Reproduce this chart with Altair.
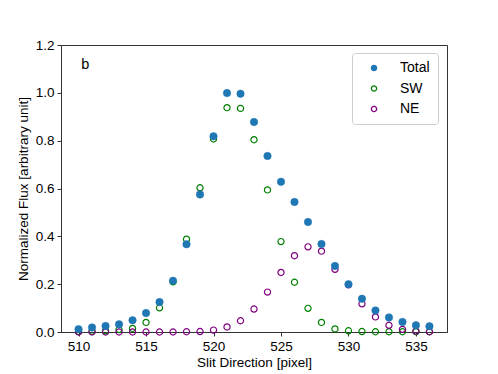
import altair as alt
import pandas as pd

pixels = list(range(510, 537))
total = [0.012, 0.019, 0.025, 0.032, 0.049, 0.079, 0.125, 0.214, 0.367, 0.575,
         0.818, 0.999, 0.996, 0.878, 0.736, 0.628, 0.544, 0.460, 0.368, 0.276,
         0.200, 0.139, 0.090, 0.061, 0.042, 0.028, 0.024]
sw = [0.002, 0.003, 0.005, 0.010, 0.015, 0.040, 0.101, 0.210, 0.388, 0.603,
      0.807, 0.938, 0.935, 0.804, 0.594, 0.378, 0.208, 0.099, 0.040, 0.013,
      0.005, 0.002, 0.001, 0.001, 0.001, 0.001, 0.001]
ne = [0.000, 0.000, 0.000, 0.000, 0.000, 0.000, 0.000, 0.000, 0.001, 0.002,
      0.008, 0.021, 0.047, 0.096, 0.167, 0.249, 0.319, 0.356, 0.338, 0.262,
      0.197, 0.118, 0.063, 0.028, 0.011, 0.004, 0.001]
series_names = ["Total", "SW", "NE"]
stroke_colors = ["#1f77b4", "#008000", "#800080"]
fill_colors = ["#1f77b4", "transparent", "transparent"]

series_vals = {"Total": total, "SW": sw, "NE": ne}
rows = []
for name in ["SW", "NE", "Total"]:
    for p, v in zip(pixels, series_vals[name]):
        rows.append({"pixel": p, "flux": v, "series": name})
df = pd.DataFrame(rows)

FONT = "Liberation Sans"

x_enc = alt.X("pixel:Q", scale=alt.Scale(domain=[508.7, 537.3], nice=False, zero=False),
              axis=alt.Axis(values=[510, 515, 520, 525, 530, 535], format="d",
                            title="Slit Direction [pixel]", grid=False))
y_enc = alt.Y("flux:Q", scale=alt.Scale(domain=[0, 1.2], nice=False),
              axis=alt.Axis(values=[0, 0.2, 0.4, 0.6, 0.8, 1.0, 1.2], format=".1f",
                            title="Normalized Flux [arbitrary unit]", grid=False))

legend = alt.Legend(title=None, orient="none", legendX=291, legendY=8,
                    fillColor="white", strokeColor="#cccccc", cornerRadius=3,
                    padding=8, rowPadding=6.5, labelFontSize=14, labelFont=FONT,
                    symbolOffset=7, labelOffset=19, symbolSize=28,
                    symbolStrokeWidth=1.3, labelColor="black")

stroke_enc = alt.Stroke("series:N", sort=series_names,
                        scale=alt.Scale(domain=series_names, range=stroke_colors),
                        legend=legend)
fill_enc = alt.Fill("series:N", sort=series_names,
                    scale=alt.Scale(domain=series_names, range=fill_colors),
                    legend=legend)

base = alt.Chart(df).encode(x=x_enc, y=y_enc, stroke=stroke_enc, fill=fill_enc,
                            shape=alt.value("circle"))

open_pts = base.transform_filter("datum.series !== 'Total'").mark_point(
    size=38, strokeWidth=1.2, opacity=1, clip=False)
total_pts = base.transform_filter("datum.series === 'Total'").mark_point(
    size=56, strokeWidth=0.5, opacity=1, clip=False)

label_df = pd.DataFrame({"x": [510.2], "y": [1.115], "t": ["b"]})
label = alt.Chart(label_df).mark_text(align="left", baseline="middle", fontSize=14.5,
                                      font=FONT, color="black").encode(
    x=alt.X("x:Q"), y=alt.Y("y:Q"), text="t:N")

chart = alt.layer(open_pts, total_pts, label).properties(
    width=386, height=287,
    autosize=alt.AutoSizeParams(type="none"),
    padding={"left": 53, "top": 37, "right": 10, "bottom": 42},
).configure_view(
    stroke="#333333", strokeWidth=1
).configure_axis(
    domainColor="#333333", tickColor="#333333", tickSize=4,
    labelFont=FONT, titleFont=FONT, labelFontSize=13.5, titleFontSize=13.5,
    labelColor="black", titleColor="black", titleFontWeight="normal",
    labelPadding=3,
).configure_axisX(titlePadding=3).configure_axisY(titlePadding=5)

chart.save("out.html", embed_options={"renderer": "svg", "actions": False})
